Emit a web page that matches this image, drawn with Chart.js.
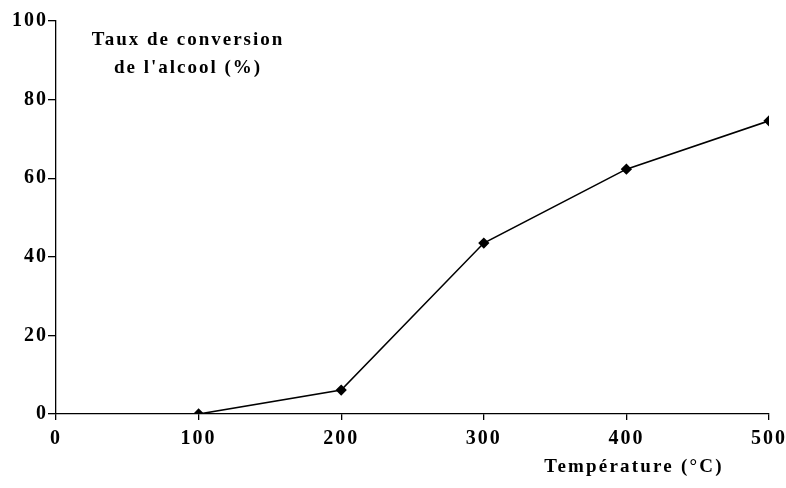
<!DOCTYPE html>
<html>
<head>
<meta charset="utf-8">
<script src="https://cdn.jsdelivr.net/npm/chart.js@4"></script>
<style>
  html, body { margin: 0; padding: 0; background: #fff; }
  #wrap { width: 786px; height: 488px; }
</style>
</head>
<body>
<div id="wrap"><canvas id="chart"></canvas></div>
<script>
// Data
const temperatures = [100, 200, 300, 400, 500];
const conversion   = [0, 6.1, 43.5, 62.3, 74.6];

const yTitleLines = ['Taux de conversion', "de l'alcool (%)"];
const xTitle      = 'Température (°C)';

const FONT = '"Liberation Serif", "Times New Roman", serif';

// letter spacing for the spaced-out serif tick labels
const spacing = {
  id: 'spacing',
  beforeUpdate(chart) { chart.ctx.letterSpacing = '2px'; },
  beforeDraw(chart)   { chart.ctx.letterSpacing = '2px'; },
};

// free-floating titles, as in the original figure
const titles = {
  id: 'titles',
  afterDraw(chart) {
    const ctx = chart.ctx;
    ctx.save();
    ctx.fillStyle = '#000';
    ctx.textAlign = 'center';
    ctx.textBaseline = 'middle';
    ctx.font = 'bold 19px ' + FONT;
    ctx.letterSpacing = '2px';
    ctx.fillText(yTitleLines[0], 188, 40);
    ctx.fillText(yTitleLines[1], 188, 68);
    ctx.letterSpacing = '2.2px';
    ctx.fillText(xTitle, 634, 467);
    ctx.restore();
  }
};

new Chart(document.getElementById('chart'), {
  type: 'line',
  data: {
    datasets: [{
      data: temperatures.map((t, i) => ({ x: t, y: conversion[i] })),
      borderColor: '#000',
      borderWidth: 1.6,
      pointStyle: 'rectRot',
      pointRadius: 4.5,
      pointBackgroundColor: '#000',
      pointBorderColor: '#000',
      tension: 0,
    }],
  },
  options: {
    responsive: true, maintainAspectRatio: false, animation: false,
    layout: { padding: { top: 21, right: 17, left: 0, bottom: 0 } },
    plugins: { legend: { display: false }, tooltip: { enabled: false } },
    scales: {
      x: {
        type: 'linear', min: 0, max: 500,
        afterFit: s => { s.height = 74; s.paddingLeft = 0; s.paddingRight = 0; },
        border: { display: true, color: '#000', width: 1.3 },
        grid: { drawOnChartArea: false, drawTicks: true, tickLength: 6, color: '#000', lineWidth: 1.3 },
        ticks: { stepSize: 100, color: '#000', padding: 7, font: { family: FONT, size: 20, weight: 'bold' } },
      },
      y: {
        min: 0, max: 100,
        afterFit: s => { s.width = 56; s.paddingTop = 0; s.paddingBottom = 0; },
        border: { display: true, color: '#000', width: 1.3 },
        grid: { drawOnChartArea: false, drawTicks: true, tickLength: 8, color: '#000', lineWidth: 1.3 },
        ticks: { stepSize: 20, color: '#000', padding: 0, font: { family: FONT, size: 20, weight: 'bold' } },
      },
    },
  },
  plugins: [spacing, titles],
});
</script>
</body>
</html>
